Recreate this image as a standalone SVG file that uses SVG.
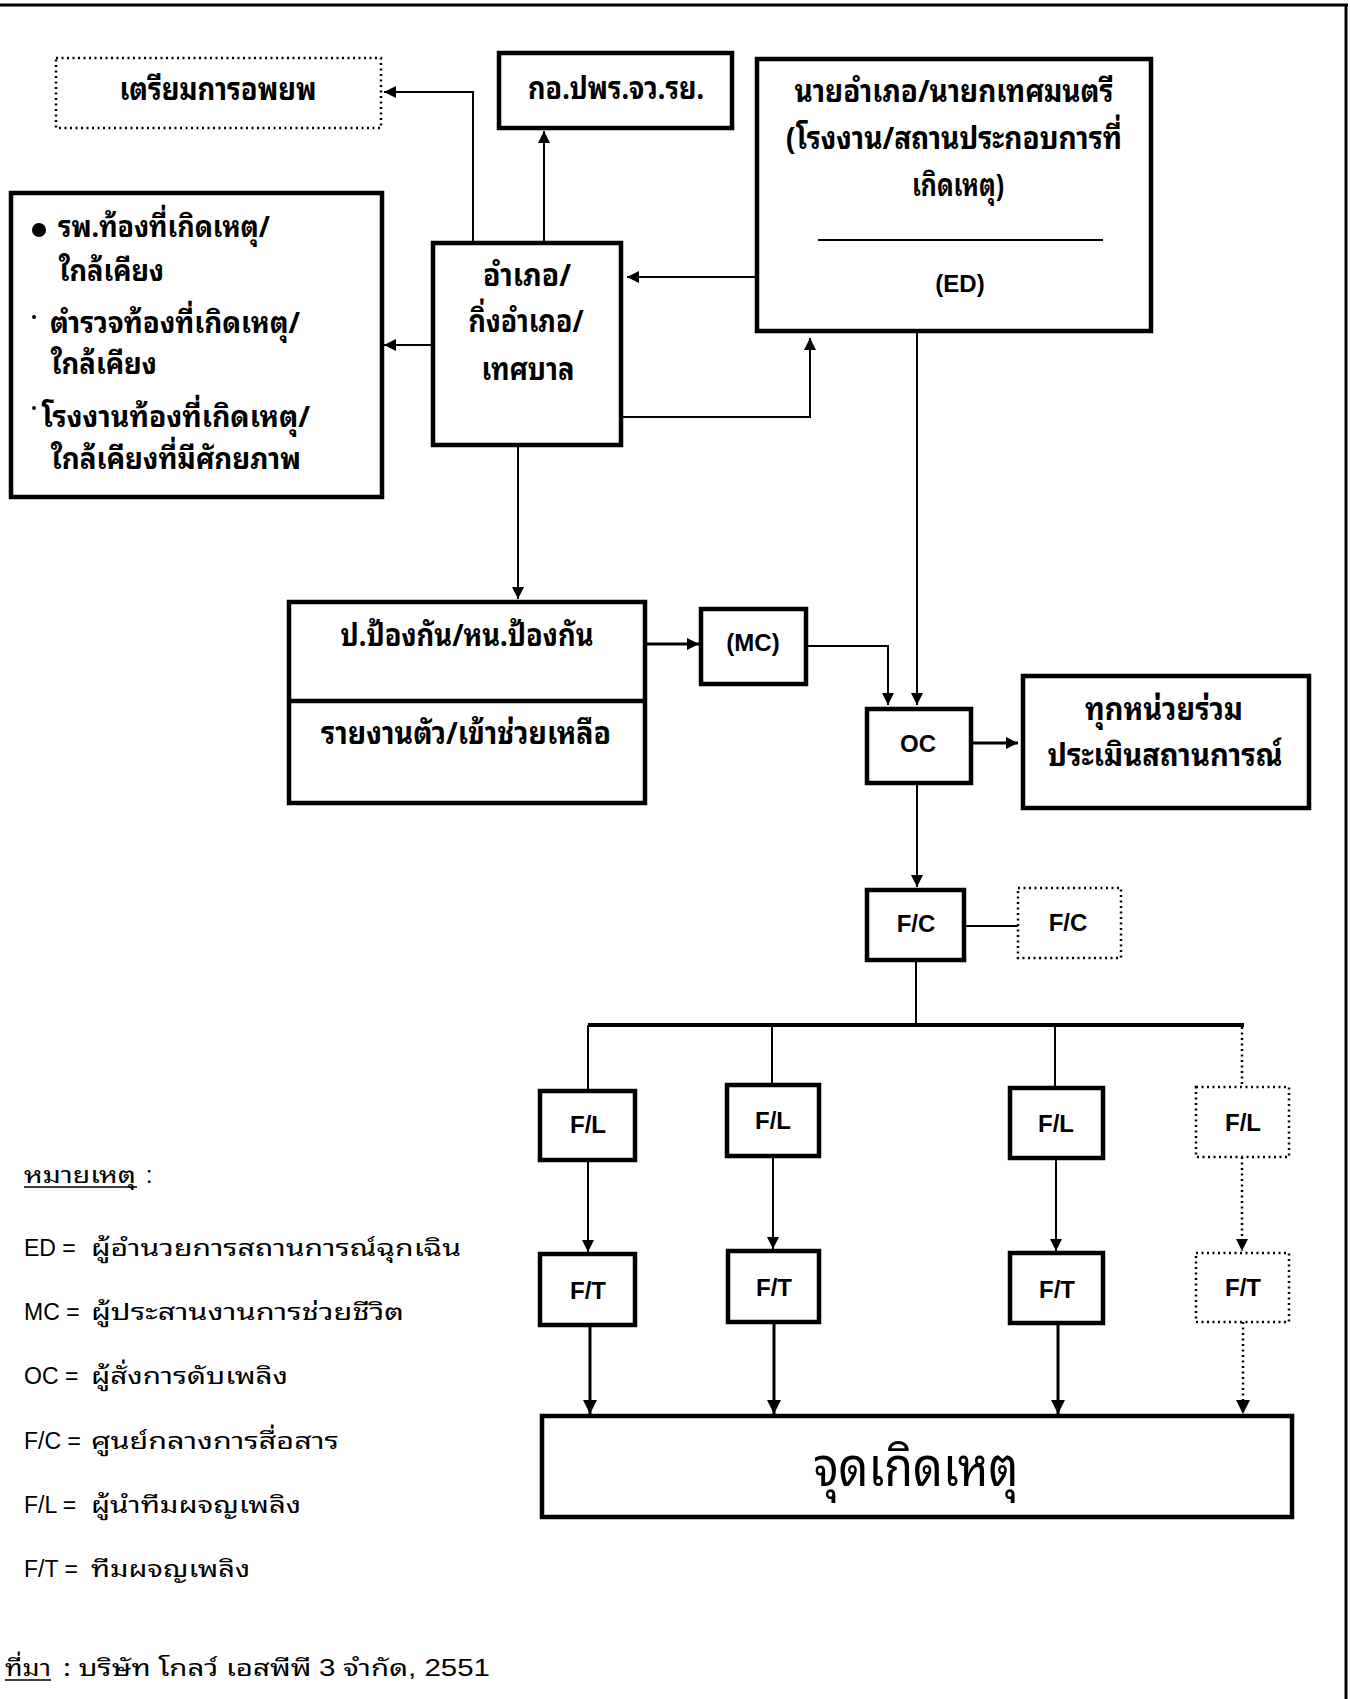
<svg xmlns="http://www.w3.org/2000/svg" width="1350" height="1699" viewBox="0 0 1350 1699">
  <defs>
    <marker id="ah" viewBox="0 0 12 12" refX="12" refY="6" markerWidth="12" markerHeight="12" markerUnits="userSpaceOnUse" orient="auto">
      <path d="M0,0 L12,6 L0,12 z" fill="#000"/>
    </marker>
    <marker id="ahb" viewBox="0 0 14 14" refX="14" refY="7" markerWidth="14" markerHeight="14" markerUnits="userSpaceOnUse" orient="auto">
      <path d="M0,0 L14,7 L0,14 z" fill="#000"/>
    </marker>
  </defs>
  <style>
    .box { fill: #fff; stroke: #000; stroke-width: 4.5; }
    .dbox { fill: #fff; stroke: #000; stroke-width: 2.5; stroke-dasharray: 2 3.5; }
    .sep { stroke: #000; stroke-width: 2; }
    .th { font-family: "Noto Sans Thai Looped", "Loma", "Garuda", "Noto Sans Thai", "Noto Sans", sans-serif; font-weight: bold; font-size: 31px; fill: #000; }
    .thl { font-size: 29px; }
    .thr { font-family: "Noto Sans Thai Looped", "Loma", "Garuda", "Noto Sans Thai", "Noto Sans", sans-serif; font-weight: normal; fill: #000; }
    .lat { font-family: "Liberation Sans", Arial, sans-serif; font-weight: bold; font-size: 24px; fill: #000; }
    .leg { font-family: "Liberation Sans", Arial, sans-serif; font-size: 23px; fill: #000; }
    .c { fill: none; stroke: #000; stroke-width: 2; }
    .c3 { fill: none; stroke: #000; stroke-width: 3; }
    .cd { fill: none; stroke: #000; stroke-width: 2.5; stroke-dasharray: 2 3.5; }
    .mid { text-anchor: middle; }
  </style>

  <!-- page frame -->
  <g id="frame">
    <line x1="0" y1="5" x2="1348" y2="5" stroke="#000" stroke-width="3"/>
    <line x1="1346" y1="4" x2="1346" y2="1699" stroke="#000" stroke-width="3"/>
  </g>

  <!-- connectors -->
  <g id="connectors">
    <path class="c" d="M473,243 V92 H384" marker-end="url(#ah)"/>
    <path class="c" d="M544,243 V131" marker-end="url(#ah)"/>
    <path class="c" d="M757,277 H627" marker-end="url(#ah)"/>
    <path class="c" d="M433,345 H384" marker-end="url(#ah)"/>
    <path class="c" d="M621,417 H810 V338" marker-end="url(#ah)"/>
    <path class="c" d="M518,445 V599" marker-end="url(#ah)"/>
    <path class="c" d="M917,331 V705" marker-end="url(#ah)"/>
    <path class="c3" d="M645,644 H699" marker-end="url(#ah)"/>
    <path class="c" d="M806,646 H888 V705" marker-end="url(#ah)"/>
    <path class="c3" d="M971,743 H1018" marker-end="url(#ah)"/>
    <path class="c" d="M917,783 V887" marker-end="url(#ah)"/>
    <path class="c" d="M964,926 H1018"/>
    <path class="c" d="M916,960 V1025"/>
    <path fill="none" stroke="#000" stroke-width="4" d="M588,1025 H1244"/>
    <path class="c" d="M588,1025 V1091"/>
    <path class="c" d="M772,1025 V1085"/>
    <path class="c" d="M1055,1025 V1088"/>
    <path class="cd" d="M1242,1027 V1087"/>
    <path class="c" d="M588,1160 V1252" marker-end="url(#ah)"/>
    <path class="c" d="M773,1156 V1249" marker-end="url(#ah)"/>
    <path class="c" d="M1056,1158 V1251" marker-end="url(#ah)"/>
    <path class="cd" d="M1242,1157 V1251" marker-end="url(#ah)"/>
    <path class="c3" d="M590,1325 V1414" marker-end="url(#ahb)"/>
    <path class="c3" d="M774,1322 V1414" marker-end="url(#ahb)"/>
    <path class="c3" d="M1058,1323 V1414" marker-end="url(#ahb)"/>
    <path class="cd" d="M1243,1322 V1414" marker-end="url(#ahb)"/>
  </g>

  <g id="evac">
    <rect class="dbox" x="56" y="58" width="325" height="70"/>
    <text class="th mid" x="218" y="100" textLength="197" lengthAdjust="spacingAndGlyphs">เตรียมการอพยพ</text>
  </g>

  <g id="province">
    <rect class="box" x="499" y="53" width="233" height="75"/>
    <text class="th mid" x="616" y="99" textLength="176" lengthAdjust="spacingAndGlyphs">กอ.ปพร.จว.รย.</text>
  </g>

  <g id="ed">
    <rect class="box" x="757" y="59" width="394" height="272"/>
    <text class="th mid" x="954" y="102" textLength="319" lengthAdjust="spacingAndGlyphs">นายอำเภอ/นายกเทศมนตรี</text>
    <text class="th mid" x="954" y="149" textLength="336" lengthAdjust="spacingAndGlyphs">(โรงงาน/สถานประกอบการที่</text>
    <text class="th mid" x="958" y="196" textLength="92" lengthAdjust="spacingAndGlyphs">เกิดเหตุ)</text>
    <line class="sep" x1="818" y1="240" x2="1103" y2="240"/>
    <text class="lat mid" x="960" y="292">(ED)</text>
  </g>

  <g id="district">
    <rect class="box" x="433" y="243" width="188" height="202"/>
    <text class="th mid" x="527" y="286" textLength="88" lengthAdjust="spacingAndGlyphs">อำเภอ/</text>
    <text class="th mid" x="526" y="332" textLength="115" lengthAdjust="spacingAndGlyphs">กิ่งอำเภอ/</text>
    <text class="th mid" x="528" y="380" textLength="93" lengthAdjust="spacingAndGlyphs">เทศบาล</text>
  </g>

  <g id="local-units">
    <rect class="box" x="11" y="193" width="371" height="304"/>
    <circle cx="39" cy="230" r="7" fill="#000"/>
    <text class="th thl" x="58" y="237" textLength="212" lengthAdjust="spacingAndGlyphs">รพ.ท้องที่เกิดเหตุ/</text>
    <text class="th thl" x="59" y="281" textLength="105" lengthAdjust="spacingAndGlyphs">ใกล้เคียง</text>
    <circle cx="34" cy="317" r="2" fill="#000"/>
    <text class="th thl" x="50" y="333" textLength="250" lengthAdjust="spacingAndGlyphs">ตำรวจท้องที่เกิดเหตุ/</text>
    <text class="th thl" x="51" y="374" textLength="106" lengthAdjust="spacingAndGlyphs">ใกล้เคียง</text>
    <circle cx="34" cy="408" r="2" fill="#000"/>
    <text class="th thl" x="42" y="427" textLength="268" lengthAdjust="spacingAndGlyphs">โรงงานท้องที่เกิดเหตุ/</text>
    <text class="th thl" x="51" y="469" textLength="250" lengthAdjust="spacingAndGlyphs">ใกล้เคียงที่มีศักยภาพ</text>
  </g>

  <g id="prevention">
    <rect class="box" x="289" y="602" width="356" height="201"/>
    <line x1="289" y1="701" x2="645" y2="701" stroke="#000" stroke-width="4.5"/>
    <text class="th mid" x="467" y="646" textLength="253" lengthAdjust="spacingAndGlyphs">ป.ป้องกัน/หน.ป้องกัน</text>
    <text class="th mid" x="466" y="744" textLength="290" lengthAdjust="spacingAndGlyphs">รายงานตัว/เข้าช่วยเหลือ</text>
  </g>

  <g id="mc">
    <rect class="box" x="701" y="609" width="105" height="75"/>
    <text class="lat mid" x="753" y="651">(MC)</text>
  </g>

  <g id="oc">
    <rect class="box" x="867" y="709" width="104" height="74"/>
    <text class="lat mid" x="918" y="752">OC</text>
  </g>

  <g id="assess">
    <rect class="box" x="1023" y="676" width="286" height="132"/>
    <text class="th mid" x="1164" y="720" textLength="158" lengthAdjust="spacingAndGlyphs">ทุกหน่วยร่วม</text>
    <text class="th mid" x="1165" y="766" textLength="235" lengthAdjust="spacingAndGlyphs">ประเมินสถานการณ์</text>
  </g>

  <g id="fc">
    <rect class="box" x="867" y="890" width="97" height="70"/>
    <text class="lat mid" x="916" y="932">F/C</text>
  </g>

  <g id="fc-alt">
    <rect class="dbox" x="1018" y="888" width="103" height="70"/>
    <text class="lat mid" x="1068" y="931">F/C</text>
  </g>

  <g id="fl1">
    <rect class="box" x="540" y="1091" width="95" height="69"/>
    <text class="lat mid" x="588" y="1133">F/L</text>
  </g>
  <g id="fl2">
    <rect class="box" x="727" y="1085" width="92" height="71"/>
    <text class="lat mid" x="773" y="1129">F/L</text>
  </g>
  <g id="fl3">
    <rect class="box" x="1010" y="1088" width="93" height="70"/>
    <text class="lat mid" x="1056" y="1132">F/L</text>
  </g>
  <g id="fl4">
    <rect class="dbox" x="1196" y="1087" width="93" height="70"/>
    <text class="lat mid" x="1243" y="1131">F/L</text>
  </g>

  <g id="ft1">
    <rect class="box" x="540" y="1254" width="95" height="71"/>
    <text class="lat mid" x="588" y="1299">F/T</text>
  </g>
  <g id="ft2">
    <rect class="box" x="728" y="1251" width="91" height="71"/>
    <text class="lat mid" x="774" y="1296">F/T</text>
  </g>
  <g id="ft3">
    <rect class="box" x="1010" y="1253" width="93" height="70"/>
    <text class="lat mid" x="1057" y="1298">F/T</text>
  </g>
  <g id="ft4">
    <rect class="dbox" x="1196" y="1253" width="93" height="69"/>
    <text class="lat mid" x="1243" y="1296">F/T</text>
  </g>

  <g id="incident">
    <rect class="box" x="542" y="1416" width="750" height="101"/>
    <text class="thr mid" x="916" y="1486" font-size="54" textLength="205" lengthAdjust="spacingAndGlyphs">จุดเกิดเหตุ</text>
  </g>

  <!-- legend -->
  <g id="legend">
    <text class="thr" x="24" y="1183" font-size="23" textLength="112" lengthAdjust="spacingAndGlyphs">หมายเหตุ</text>
    <line x1="24" y1="1187" x2="137" y2="1187" stroke="#000" stroke-width="1.5"/>
    <text class="leg" x="146" y="1183">:</text>

    <text class="leg" x="24" y="1256">ED =</text>
    <text class="thr" x="91" y="1256" font-size="23" textLength="370" lengthAdjust="spacingAndGlyphs">ผู้อำนวยการสถานการณ์ฉุกเฉิน</text>

    <text class="leg" x="24" y="1320">MC =</text>
    <text class="thr" x="91" y="1320" font-size="23" textLength="313" lengthAdjust="spacingAndGlyphs">ผู้ประสานงานการช่วยชีวิต</text>

    <text class="leg" x="24" y="1384">OC =</text>
    <text class="thr" x="91" y="1384" font-size="23" textLength="197" lengthAdjust="spacingAndGlyphs">ผู้สั่งการดับเพลิง</text>

    <text class="leg" x="24" y="1449">F/C =</text>
    <text class="thr" x="91" y="1449" font-size="23" textLength="248" lengthAdjust="spacingAndGlyphs">ศูนย์กลางการสื่อสาร</text>

    <text class="leg" x="24" y="1513">F/L =</text>
    <text class="thr" x="91" y="1513" font-size="23" textLength="210" lengthAdjust="spacingAndGlyphs">ผู้นำทีมผจญเพลิง</text>

    <text class="leg" x="24" y="1577">F/T =</text>
    <text class="thr" x="91" y="1577" font-size="23" textLength="159" lengthAdjust="spacingAndGlyphs">ทีมผจญเพลิง</text>
  </g>

  <g id="source">
    <text class="thr" x="5" y="1676" font-size="23" textLength="46" lengthAdjust="spacingAndGlyphs">ที่มา</text>
    <line x1="5" y1="1680" x2="51" y2="1680" stroke="#000" stroke-width="1.5"/>
    <text class="thr" x="63" y="1676" font-size="23" textLength="427" lengthAdjust="spacingAndGlyphs">: บริษัท โกลว์ เอสพีพี <tspan font-family="Liberation Sans">3</tspan> จำกัด<tspan font-family="Liberation Sans">, 2551</tspan></text>
  </g>
</svg>
